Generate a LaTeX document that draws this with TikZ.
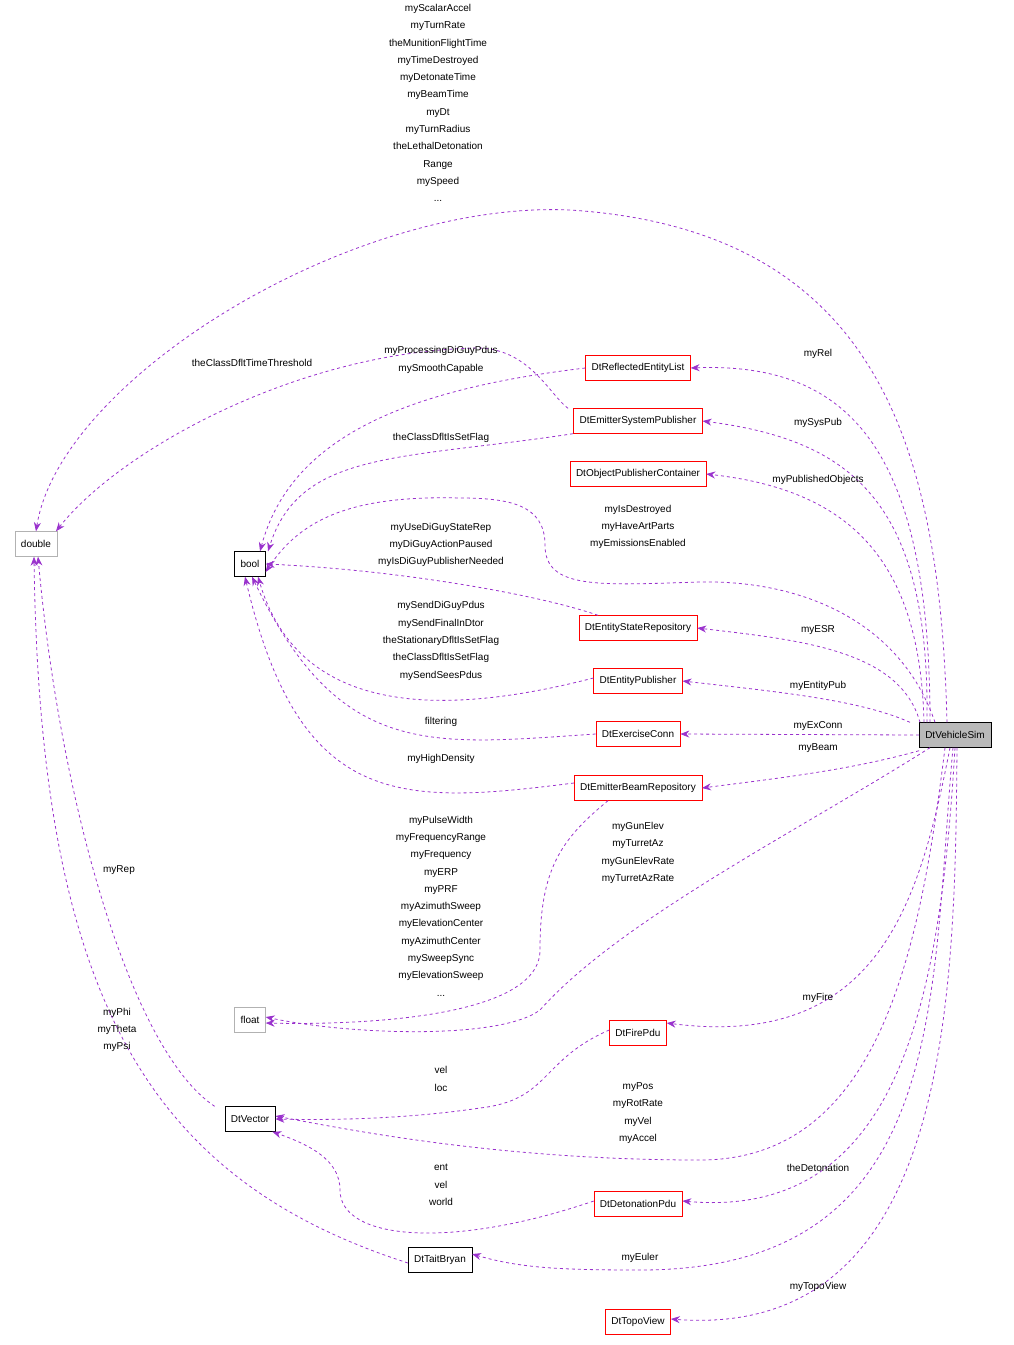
\documentclass[tikz,border=0pt]{standalone}
\usepackage{fontspec}
\setmainfont{Liberation Sans}
\usetikzlibrary{arrows.meta}
\definecolor{edge}{HTML}{9A32CD}
\definecolor{redb}{HTML}{FF0000}
\begin{document}
\begin{tikzpicture}[x=1pt,y=-1pt,
  every node/.style={font=\fontsize{10}{17.3}\selectfont},
  box/.style={draw=redb,fill=white,minimum height=25,inner xsep=6,inner ysep=2},
  bbox/.style={box,draw=black},
  gbox/.style={box,draw=gray!60},
  lab/.style={align=center,inner sep=0},
  e/.style={draw=edge,dashed,thick,-{Stealth[length=9,width=7]}}]
\useasboundingbox (0,0) rectangle (1013,1345);
\node[gbox] (dbl) at (36,544) {double};
\node[bbox] (bool) at (250,564) {bool};
\node[gbox] (flt) at (250,1020) {float};
\node[bbox] (vec) at (250,1119) {DtVector};
\node[bbox] (tb) at (440,1260) {DtTaitBryan};
\node[bbox,fill=gray!55] (vs) at (955,735) {DtVehicleSim};
\node[box] (rel) at (638,368) {DtReflectedEntityList};
\node[box] (esp) at (638,421) {DtEmitterSystemPublisher};
\node[box] (opc) at (638,474) {DtObjectPublisherContainer};
\node[box] (esr) at (638,628) {DtEntityStateRepository};
\node[box] (ep) at (638,681) {DtEntityPublisher};
\node[box] (exc) at (638,734) {DtExerciseConn};
\node[box] (ebr) at (638,788) {DtEmitterBeamRepository};
\node[box] (fire) at (638,1033) {DtFirePdu};
\node[box] (det) at (638,1204) {DtDetonationPdu};
\node[box] (topo) at (638,1322) {DtTopoView};

\coordinate (p1) at (570,210);
\draw[e] ([xshift=-8]vs.north) .. controls (940,450) and (880,230) .. (p1) .. controls (350,200) and (60,380) .. (dbl.north);
\coordinate (p2) at (480,348);
\draw[e] ([xshift=-70]esp.north) .. controls (550,395) and (530,350) .. (p2) .. controls (300,350) and (120,450) .. ([xshift=20]dbl.north);
\draw[e] (rel.west) .. controls (400,390) and (290,440) .. ([xshift=10]bool.north);
\draw[e] ([xshift=-65]esp.south) .. controls (400,460) and (300,450) .. ([xshift=18]bool.north);
\coordinate (p5a) at (700,582); \coordinate (p5b) at (460,498);
\draw[e] ([xshift=-20]vs.north) .. controls (900,620) and (800,580) .. (p5a) .. controls (600,585) and (545,590) .. (545,545) .. controls (545,505) and (510,498) .. (p5b) .. controls (350,495) and (300,520) .. ([yshift=-8]bool.east);
\draw[e] ([xshift=-40]esr.north) .. controls (540,595) and (400,570) .. (bool.east);
\draw[e] ([yshift=3]ep.west) .. controls (450,715) and (300,720) .. ([xshift=8]bool.south);
\draw[e] (exc.west) .. controls (430,745) and (340,760) .. ([xshift=2]bool.south);
\draw[e] ([yshift=5]ebr.west) .. controls (400,805) and (300,810) .. ([xshift=-5]bool.south);

\draw[e] ([xshift=-25]vs.north) .. controls (930,450) and (850,362) .. (rel.east);
\draw[e] ([xshift=-28]vs.north) .. controls (930,500) and (850,440) .. (esp.east);
\draw[e] ([xshift=-31]vs.north) .. controls (920,560) and (850,490) .. (opc.east);
\draw[e] ([xshift=-35]vs.north) .. controls (900,650) and (800,640) .. (esr.east);
\draw[e] ([xshift=-45]vs.north) .. controls (860,700) and (780,692) .. (ep.east);
\draw[e] (vs.west) -- (exc.east);
\draw[e] ([yshift=-3]vs.south west) .. controls (850,770) and (780,778) .. (ebr.east);

\coordinate (f1) at (540,1010);
\draw[e] ([xshift=-25]vs.south) .. controls (800,830) and (620,920) .. (f1) .. controls (500,1040) and (350,1035) .. ([yshift=3]flt.east);
\draw[e] ([xshift=-30]ebr.south) .. controls (560,840) and (540,870) .. (540,950) .. controls (540,1020) and (350,1025) .. ([yshift=-3]flt.east);
\draw[e] ([xshift=-5]vs.south) .. controls (920,900) and (880,1050) .. ([yshift=10]fire.east);
\coordinate (v1) at (480,1108);
\draw[e] ([yshift=3]fire.west) .. controls (540,1060) and (550,1100) .. (v1) .. controls (400,1120) and (320,1120) .. (vec.east);
\coordinate (v2) at (700,1160);
\draw[e] ([xshift=-10]vs.south) .. controls (920,950) and (880,1160) .. (v2) .. controls (500,1160) and (350,1130) .. ([yshift=3]vec.east);
\draw[e] ([yshift=3]det.west) .. controls (450,1250) and (340,1240) .. (340,1190) .. controls (340,1160) and (310,1145) .. ([xshift=-3]vec.south east);
\draw[e] (vs.south) .. controls (940,1000) and (900,1220) .. ([yshift=3]det.east);
\draw[e] ([xshift=-2]vs.south) .. controls (930,1000) and (950,1270) .. (640,1270) .. controls (560,1270) and (520,1268) .. ([yshift=6]tb.east);
\draw[e] ([xshift=2]vs.south) .. controls (955,1000) and (950,1340) .. ([yshift=3]topo.east);
\draw[e] ([xshift=-10]vec.north west) .. controls (130,1050) and (60,800) .. ([xshift=2]dbl.south);
\draw[e] ([yshift=-3]tb.west) .. controls (150,1180) and (40,1000) .. ([xshift=-2]dbl.south);

\node[lab,anchor=north] (l1) at (438,4) {myScalarAccel\\myTurnRate\\theMunitionFlightTime\\myTimeDestroyed\\myDetonateTime\\myBeamTime\\myDt\\myTurnRadius\\theLethalDetonation\\Range\\mySpeed\\...};
\node[lab] (l2) at (252,363) {theClassDfltTimeThreshold};
\node[lab] (l3) at (441,360) {myProcessingDiGuyPdus\\mySmoothCapable};
\node[lab] (l4) at (441,438) {theClassDfltIsSetFlag};
\node[lab] (l5) at (638,527) {myIsDestroyed\\myHaveArtParts\\myEmissionsEnabled};
\node[lab] (l6) at (441,545) {myUseDiGuyStateRep\\myDiGuyActionPaused\\myIsDiGuyPublisherNeeded};
\node[lab] (l7) at (441,641) {mySendDiGuyPdus\\mySendFinalInDtor\\theStationaryDfltIsSetFlag\\theClassDfltIsSetFlag\\mySendSeesPdus};
\node[lab] (l8) at (441,722) {filtering};
\node[lab] (l9) at (441,759) {myHighDensity};
\node[lab] (l10) at (818,354) {myRel};
\node[lab] (l11) at (818,423) {mySysPub};
\node[lab] (l12) at (818,480) {myPublishedObjects};
\node[lab] (l13) at (818,630) {myESR};
\node[lab] (l14) at (818,686) {myEntityPub};
\node[lab] (l15) at (818,726) {myExConn};
\node[lab] (l16) at (818,748) {myBeam};
\node[lab] (l17) at (441,906) {myPulseWidth\\myFrequencyRange\\myFrequency\\myERP\\myPRF\\myAzimuthSweep\\myElevationCenter\\myAzimuthCenter\\mySweepSync\\myElevationSweep\\...};
\node[lab] (l18) at (638,853) {myGunElev\\myTurretAz\\myGunElevRate\\myTurretAzRate};
\node[lab] (l19) at (818,998) {myFire};
\node[lab] (l20) at (441,1079) {vel\\loc};
\node[lab] (l21) at (638,1113) {myPos\\myRotRate\\myVel\\myAccel};
\node[lab] (l22) at (441,1185) {ent\\vel\\world};
\node[lab] (l23) at (818,1168) {theDetonation};
\node[lab] (l24) at (640,1258) {myEuler};
\node[lab] (l25) at (818,1287) {myTopoView};
\node[lab] (l26) at (119,870) {myRep};
\node[lab] (l27) at (117,1030) {myPhi\\myTheta\\myPsi};
\end{tikzpicture}
\end{document}
